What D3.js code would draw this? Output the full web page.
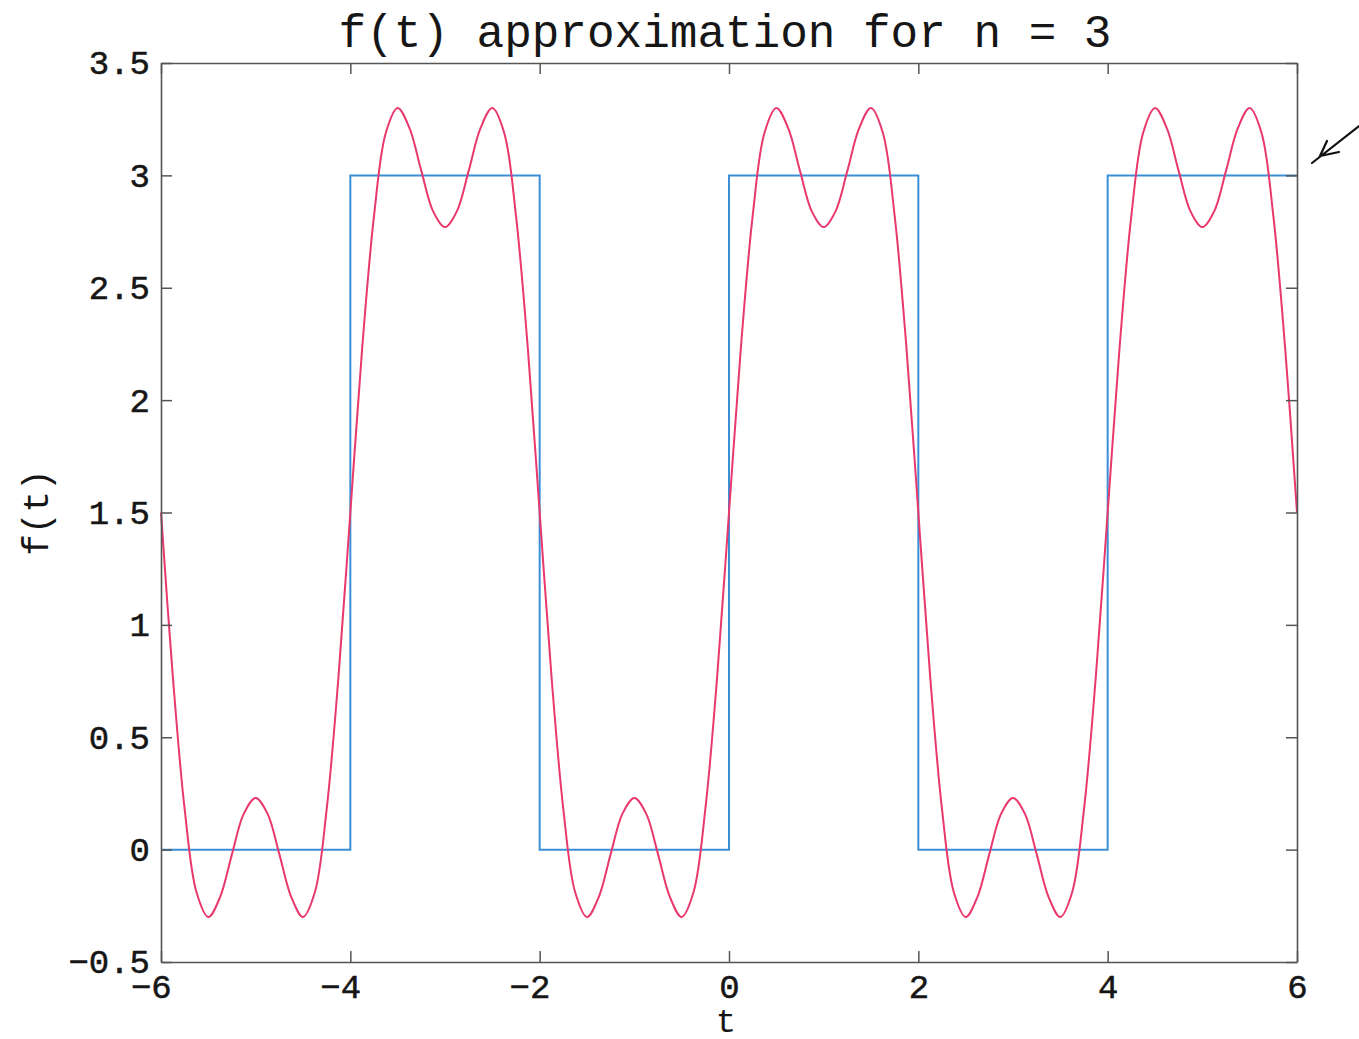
<!DOCTYPE html>
<html>
<head>
<meta charset="utf-8">
<script src="https://cdn.jsdelivr.net/npm/d3@7"></script>
<style>
  body { margin: 0; background: #fff; }
  text { font-family: "Liberation Mono", "Courier New", monospace; fill: #161616; }
</style>
</head>
<body>
<div id="chart"></div>
<script>
// sample times for the approximation, step 0.125 from -6 to 6
var tStart = -6, tStep = 0.125;

// red curve: n = 3 fourier approximation
var approxValues = [
  1.50, 0.77, 0.18, -0.19, -0.30, -0.21, -0.02, 0.16, 0.23, 0.16, -0.02, -0.21, -0.30, -0.19, 0.18, 0.77,
  1.50, 2.23, 2.82, 3.19, 3.30, 3.21, 3.02, 2.84, 2.77, 2.84, 3.02, 3.21, 3.30, 3.19, 2.82, 2.23,
  1.50, 0.77, 0.18, -0.19, -0.30, -0.21, -0.02, 0.16, 0.23, 0.16, -0.02, -0.21, -0.30, -0.19, 0.18, 0.77,
  1.50, 2.23, 2.82, 3.19, 3.30, 3.21, 3.02, 2.84, 2.77, 2.84, 3.02, 3.21, 3.30, 3.19, 2.82, 2.23,
  1.50, 0.77, 0.18, -0.19, -0.30, -0.21, -0.02, 0.16, 0.23, 0.16, -0.02, -0.21, -0.30, -0.19, 0.18, 0.77,
  1.50, 2.23, 2.82, 3.19, 3.30, 3.21, 3.02, 2.84, 2.77, 2.84, 3.02, 3.21, 3.30, 3.19, 2.82, 2.23,
  1.50
];

// blue curve: the square wave itself
var squareT = [-6, -4, -4, -2, -2, 0, 0, 2, 2, 4, 4, 6];
var squareF = [0, 0, 3, 3, 0, 0, 3, 3, 0, 0, 3, 3];

var xTicks = [-6, -4, -2, 0, 2, 4, 6];
var yTicks = [-0.5, 0, 0.5, 1, 1.5, 2, 2.5, 3, 3.5];

var titleText = "f(t) approximation for n = 3";
var xLabel = "t", yLabel = "f(t)";

var W = 1359, H = 1039;
var margin = {top: 63, right: 62, bottom: 77, left: 161},
    width = W - margin.left - margin.right,
    height = H - margin.top - margin.bottom;

var svg = d3.select("#chart")
  .append("svg")
    .attr("width", W)
    .attr("height", H)
  .append("g")
    .attr("transform", "translate(" + margin.left + "," + margin.top + ")");

var x = d3.scaleLinear().domain([-6, 6]).range([0, width]);
var y = d3.scaleLinear().domain([-0.5, 3.5]).range([height, 0]);

var approx = approxValues.map(function(v, i) {
  return {t: tStart + i * tStep, f: v};
});
var square = squareT.map(function(t, i) { return {t: t, f: squareF[i]}; });

// square wave
svg.append("path")
  .datum(square)
  .attr("fill", "none")
  .attr("stroke", "#3a8fd6")
  .attr("stroke-width", 2)
  .attr("d", d3.line().x(d => x(d.t)).y(d => y(d.f)));

// approximation
svg.append("path")
  .datum(approx)
  .attr("fill", "none")
  .attr("stroke", "#e8386c")
  .attr("stroke-width", 2)
  .attr("d", d3.line().curve(d3.curveCatmullRom).x(d => x(d.t)).y(d => y(d.f)));

// axes, matlab style: ticks pointing in on all four sides
var bottom = svg.append("g")
  .attr("transform", "translate(0," + height + ")")
  .call(d3.axisBottom(x).tickValues(xTicks).tickSize(-11).tickPadding(12).tickSizeOuter(0));
var left = svg.append("g")
  .call(d3.axisLeft(y).tickValues(yTicks).tickSize(-11).tickPadding(11).tickSizeOuter(0)
    .tickFormat(d => d3.format("")(d).replace("-", "\u2212")));
svg.append("g")
  .call(d3.axisTop(x).tickValues(xTicks).tickSize(-11).tickSizeOuter(0).tickFormat(""));
svg.append("g")
  .attr("transform", "translate(" + width + ",0)")
  .call(d3.axisRight(y).tickValues(yTicks).tickSize(-11).tickSizeOuter(0).tickFormat(""));

svg.selectAll(".domain").attr("stroke", "#555").attr("stroke-width", 1.6);
svg.selectAll(".tick line").attr("stroke", "#555").attr("stroke-width", 1.5);
svg.selectAll(".tick text")
  .attr("fill", "#161616")
  .attr("stroke", "#161616")
  .attr("stroke-width", 0.5)
  .style("font-family", '"Liberation Mono", monospace')
  .style("font-size", "34px");

// negative x labels: digit sits on the tick, minus hangs to the left
bottom.selectAll(".tick text")
  .text(d => d < 0 ? "\u2212" + Math.abs(d) : d)
  .attr("dx", d => d < 0 ? "-0.3em" : 0);

// title and axis labels
svg.append("text")
  .attr("x", width / 2 - 4)
  .attr("y", 47 - margin.top)
  .attr("text-anchor", "middle")
  .style("font-size", "46px")
  .text(titleText);

svg.append("text")
  .attr("x", x(0) - 3)
  .attr("y", height + 70)
  .attr("text-anchor", "middle")
  .style("font-size", "34px")
  .text(xLabel);

svg.append("text")
  .attr("transform", "translate(" + (48 - margin.left) + "," + y(1.5) + ") rotate(-90)")
  .attr("text-anchor", "middle")
  .style("font-size", "36px")
  .text(yLabel);

// hand drawn arrow in the margin
svg.append("path")
  .attr("transform", "translate(" + (-margin.left) + "," + (-margin.top) + ")")
  .attr("d", "M1359,126 L1312,163 M1327,141 L1320,156 L1339,152")
  .attr("fill", "none")
  .attr("stroke", "#111")
  .attr("stroke-width", 2.2)
  .attr("stroke-linecap", "round");
</script>
</body>
</html>
